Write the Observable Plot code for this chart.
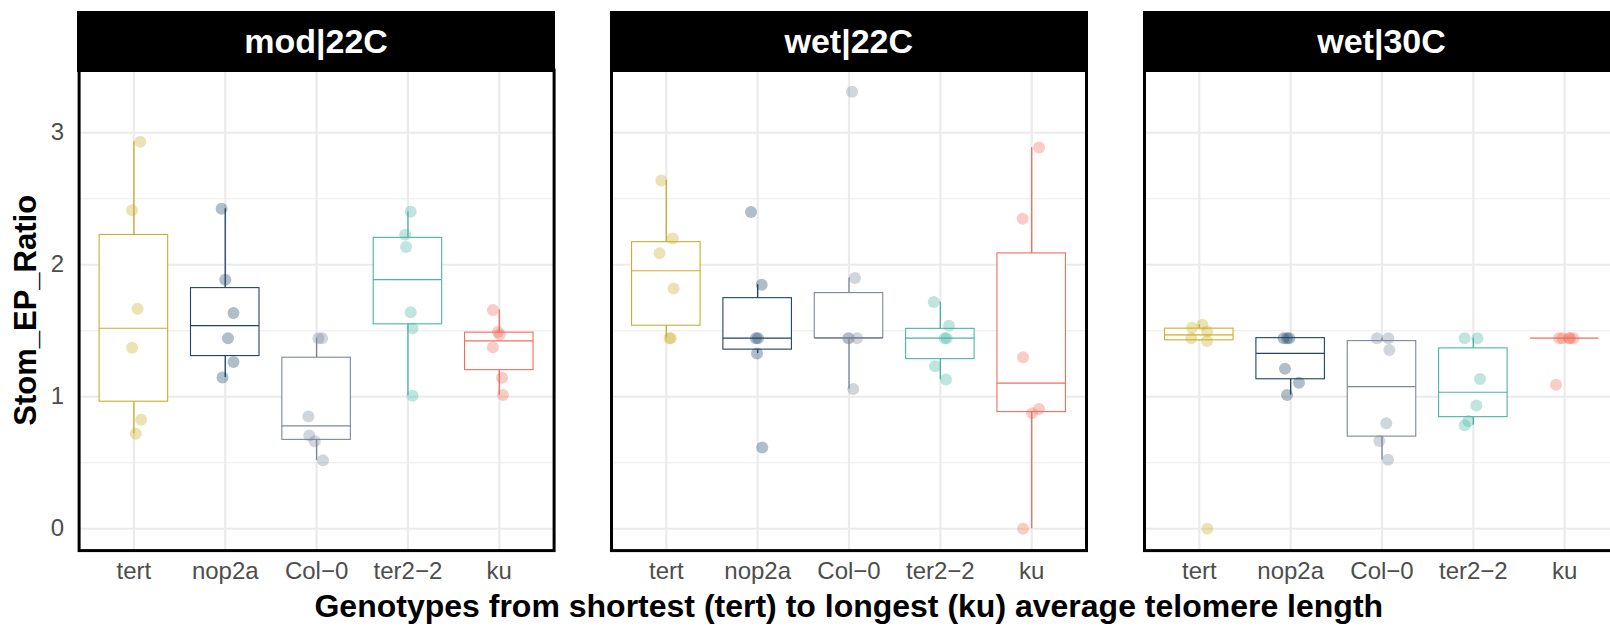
<!DOCTYPE html>
<html>
<head>
<meta charset="utf-8">
<script src="https://cdn.jsdelivr.net/npm/d3@7"></script>
<script src="https://cdn.jsdelivr.net/npm/@observablehq/plot@0.6"></script>
<style>
  html, body { margin: 0; padding: 0; background: #fff; overflow: hidden; }
  #root { position: relative; width: 1610px; height: 627px; overflow: hidden;
          font-family: "Liberation Sans", Arial, Helvetica, sans-serif; }
  .strip { position: absolute; background: #000; color: #fff; font-weight: bold;
           text-align: center; font-size: 34px; display: flex; align-items: center; justify-content: center; }
  .xtitle { position: absolute; font-weight: bold; font-size: 32px; color: #000; text-align: center; }
  #root svg { position: absolute; top: 0; max-width: none; overflow: visible; background: transparent; }
</style>
</head>
<body>
<div id="root"></div>
<script>
// ---- data ----
const facets = ["mod|22C", "wet|22C", "wet|30C"];
const genotypes = ["tert", "nop2a", "Col\u22120", "ter2\u22122", "ku"];
const colors = ["#C9AF2A", "#1E4468", "#7C869C", "#4AB5A4", "#F06E5C"];
const yTicks = [0, 1, 2, 3];
const yMinor = [0.5, 1.5, 2.5];
const yLabel = "Stom_EP_Ratio";
const xLabel = "Genotypes from shortest (tert) to longest (ku) average telomere length";

// Stom_EP_Ratio per genotype (order of `genotypes`)
const mod22C = [
  [2.932, 2.412, 1.667, 1.371, 0.826, 0.720],
  [2.424, 1.886, 1.634, 1.444, 1.263, 1.146],
  [1.444, 1.444, 0.851, 0.707, 0.662, 0.518],
  [2.402, 2.227, 2.134, 1.641, 1.518, 1.008],
  [1.657, 1.490, 1.472, 1.374, 1.144, 1.013]
];
const wet22C = [
  [2.639, 2.199, 2.088, 1.821, 1.444, 1.444],
  [2.399, 1.848, 1.444, 1.444, 1.328, 0.616],
  [3.311, 1.899, 1.444, 1.444, 1.444, 1.058],
  [1.717, 1.538, 1.444, 1.444, 1.232, 1.131],
  [2.889, 2.348, 1.300, 0.907, 0.876, 0.000]
];
const wet30C = [
  [1.545, 1.523, 1.495, 1.444, 1.422, 0.000],
  [1.444, 1.444, 1.444, 1.212, 1.106, 1.013],
  [1.444, 1.444, 1.354, 0.800, 0.664, 0.523],
  [1.444, 1.444, 1.134, 0.934, 0.816, 0.785],
  [1.444, 1.444, 1.444, 1.444, 1.444, 1.091]
];
// horizontal jitter of each point, in category widths
const mod22CJitter = [
  [0.07, -0.02, 0.04, -0.02, 0.08, 0.02],
  [-0.04, 0.00, 0.09, 0.03, 0.09, -0.03],
  [0.02, 0.06, -0.09, -0.08, -0.02, 0.07],
  [0.03, -0.03, -0.02, 0.03, 0.05, 0.05],
  [-0.07, -0.015, 0.004, -0.07, 0.03, 0.04]
];
const wet22CJitter = [
  [-0.055, 0.07, -0.073, 0.08, 0.05, 0.035],
  [-0.073, 0.044, -0.02, 0.004, -0.007, 0.05],
  [0.033, 0.066, -0.011, 0.0, 0.088, 0.047],
  [-0.073, 0.095, 0.047, 0.07, -0.058, 0.062],
  [0.08, -0.099, -0.095, 0.08, 0.004, -0.095]
];
const wet30CJitter = [
  [0.033, -0.08, 0.088, -0.088, 0.084, 0.088],
  [-0.077, -0.04, -0.015, -0.062, 0.091, -0.04],
  [-0.055, 0.069, 0.08, 0.047, -0.029, 0.066],
  [-0.095, 0.044, 0.073, 0.033, -0.055, -0.095],
  [-0.062, -0.025, 0.047, 0.095, 0.06, -0.095]
];
const facetValues = [mod22C, wet22C, wet30C];
const facetJitter = [mod22CJitter, wet22CJitter, wet30CJitter];

// ---- layout ----
const panelLeft = [78.6, 611.3, 1144];
const PW = 475;
const TOP = 69.5, BOTTOM = 550.1, H = 627;
const FONT = "Liberation Sans, Arial, Helvetica, sans-serif";
const root = document.getElementById("root");

function panel(fi) {
  const vals = facetValues[fi], jit = facetJitter[fi];
  const pts = [], stats = [];
  vals.forEach((arr, gi) => {
    arr.forEach((v, k) => pts.push({g: genotypes[gi], x: gi + jit[gi][k], y: v}));
    const s = arr.slice().sort(d3.ascending);
    const q1 = d3.quantile(s, 0.25), med = d3.quantile(s, 0.5), q3 = d3.quantile(s, 0.75);
    const iqr = q3 - q1;
    const lo = d3.min(s.filter(v => v >= q1 - 1.5 * iqr));
    const hi = d3.max(s.filter(v => v <= q3 + 1.5 * iqr));
    stats.push({g: genotypes[gi], i: gi, q1, med, q3, lo, hi});
  });
  const first = fi === 0;
  const ML = first ? panelLeft[0] : 12;
  const MR = 12;
  const marks = [
    Plot.ruleY(yMinor, {stroke: "#EBEBEB", strokeWidth: 1.1}),
    Plot.ruleY(yTicks, {stroke: "#EBEBEB", strokeWidth: 2.2}),
    Plot.ruleX(d3.range(genotypes.length), {stroke: "#EBEBEB", strokeWidth: 2.2}),
    Plot.ruleX(stats, {x: "i", y1: "q3", y2: "hi", stroke: "g", strokeWidth: 1.3}),
    Plot.ruleX(stats, {x: "i", y1: "lo", y2: "q1", stroke: "g", strokeWidth: 1.3}),
    Plot.rect(stats, {x1: d => d.i - 0.375, x2: d => d.i + 0.375, y1: "q1", y2: "q3",
                      fill: "white", stroke: "g", strokeWidth: 1.1}),
    Plot.ruleY(stats, {y: "med", x1: d => d.i - 0.375, x2: d => d.i + 0.375, stroke: "g", strokeWidth: 1.2}),
    Plot.dot(pts, {x: "x", y: "y", r: 6, fill: "g", fillOpacity: 0.35, stroke: null}),
    Plot.frame({stroke: "black", strokeWidth: 3}),
    Plot.text(d3.range(genotypes.length), {x: d => d, text: d => genotypes[d], frameAnchor: "bottom",
      dy: 21, lineAnchor: "middle", fontSize: 24, fill: "#4D4D4D", fontFamily: FONT})
  ];
  if (first) {
    marks.push(Plot.text(yTicks, {y: d => d, text: d => String(d), frameAnchor: "left", dx: -15,
      textAnchor: "end", lineAnchor: "middle", fontSize: 24, fill: "#4D4D4D", fontFamily: FONT}));
    marks.push(Plot.text([yLabel], {text: d => d, frameAnchor: "left", dx: -53, rotate: -90,
      textAnchor: "middle", lineAnchor: "middle", fontSize: 31, fontWeight: "bold", fill: "#000", fontFamily: FONT}));
  }
  const svg = Plot.plot({
    width: ML + PW + MR,
    height: H,
    marginLeft: ML, marginRight: MR, marginTop: TOP, marginBottom: H - BOTTOM,
    x: {domain: [-0.6, genotypes.length - 0.4], axis: null},
    y: {domain: [-0.1655, 3.4755], axis: null},
    color: {domain: genotypes, range: colors},
    style: {fontFamily: FONT, background: "transparent", overflow: "visible"},
    marks
  });
  svg.style.left = (panelLeft[fi] - ML) + "px";
  svg.style.maxWidth = "none";
  root.appendChild(svg);

  const strip = document.createElement("div");
  strip.className = "strip";
  strip.style.left = (panelLeft[fi] - 1.5) + "px";
  strip.style.width = (PW + 3) + "px";
  strip.style.top = "10.5px";
  strip.style.height = "61px";
  strip.textContent = facets[fi];
  root.appendChild(strip);
}
facets.forEach((f, i) => panel(i));

const xt = document.createElement("div");
xt.className = "xtitle";
xt.style.left = panelLeft[0] + "px";
xt.style.width = (panelLeft[2] + PW - panelLeft[0]) + "px";
xt.style.top = "587px";
xt.style.lineHeight = "38px";
xt.textContent = xLabel;
root.appendChild(xt);
</script>
</body>
</html>
